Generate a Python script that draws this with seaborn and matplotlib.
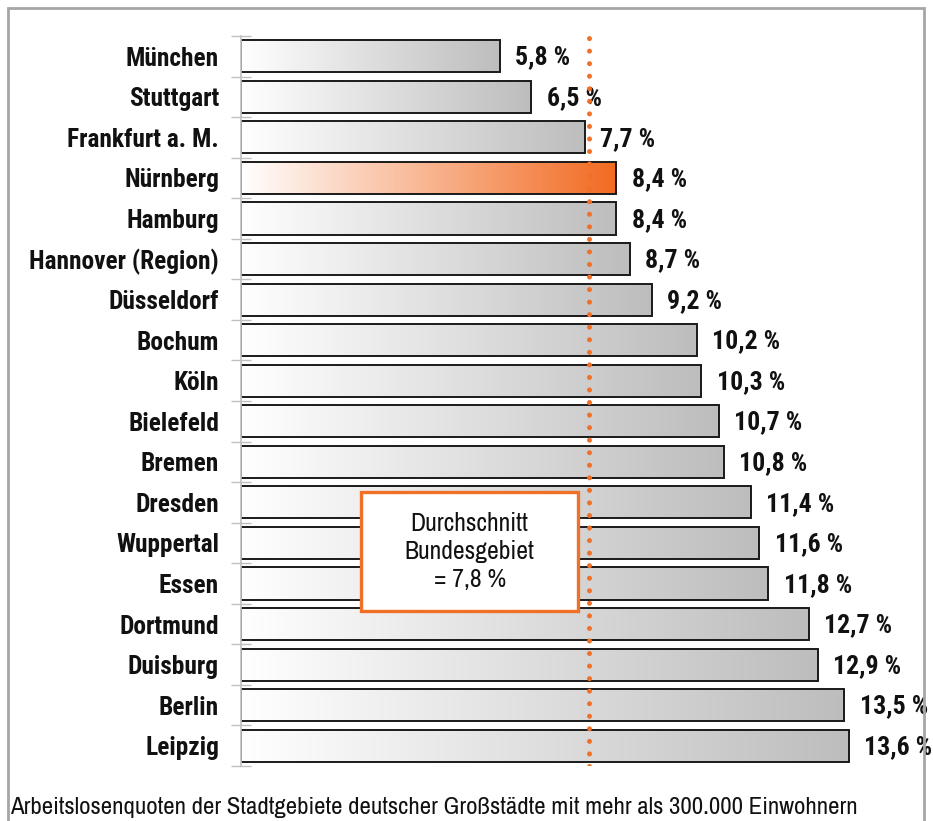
import numpy as np
import pandas as pd
import matplotlib
matplotlib.use("Agg")
import matplotlib.pyplot as plt
import seaborn as sns
from matplotlib.colors import LinearSegmentedColormap
from matplotlib.patches import Rectangle

cities = ["München", "Stuttgart", "Frankfurt a. M.", "Nürnberg", "Hamburg",
          "Hannover (Region)", "Düsseldorf", "Bochum", "Köln", "Bielefeld",
          "Bremen", "Dresden", "Wuppertal", "Essen", "Dortmund", "Duisburg",
          "Berlin", "Leipzig"]
values = [5.8, 6.5, 7.7, 8.4, 8.4, 8.7, 9.2, 10.2, 10.3, 10.7, 10.8, 11.4,
          11.6, 11.8, 12.7, 12.9, 13.5, 13.6]
value_labels = ["5,8 %", "6,5 %", "7,7 %", "8,4 %", "8,4 %", "8,7 %", "9,2 %",
                "10,2 %", "10,3 %", "10,7 %", "10,8 %", "11,4 %", "11,6 %",
                "11,8 %", "12,7 %", "12,9 %", "13,5 %", "13,6 %"]
highlight = "Nürnberg"
average = 7.8
avg_text = "Durchschnitt\nBundesgebiet\n= 7,8 %"
caption = "Arbeitslosenquoten der Stadtgebiete deutscher Großstädte mit mehr als 300.000 Einwohnern"

sns.set_style("white")
FAM = ["Archivo Narrow", "DejaVu Sans"]
BOLD_FAM = ["Roboto Condensed", "Encode Sans Condensed", "DejaVu Sans"]
plt.rcParams["font.family"] = FAM

fig = plt.figure(figsize=(9.33, 8.21), dpi=100)
ax = fig.add_axes([240.5 / 933, 55 / 821, 671.1 / 933, 730 / 821])

df = pd.DataFrame({"city": cities, "value": values})
sns.barplot(data=df, x="value", y="city", orient="h", color="#cccccc",
            edgecolor="#1a1a1a", linewidth=1.4, width=0.79, ax=ax,
            saturation=1)

gray_cmap = LinearSegmentedColormap.from_list("g", ["#ffffff", "#bdbdbd"])
orange_cmap = LinearSegmentedColormap.from_list("o", ["#ffffff", "#f26a21"])
grad = np.linspace(0, 1, 256).reshape(1, -1)
for patch, city in zip(ax.patches, cities):
    x0, y0 = patch.get_x(), patch.get_y()
    w, h = patch.get_width(), patch.get_height()
    cmap = orange_cmap if city == highlight else gray_cmap
    im = ax.imshow(grad, extent=[x0, x0 + w, y0 + h, y0], aspect="auto",
                   cmap=cmap, zorder=patch.get_zorder() - 0.1,
                   interpolation="bilinear")
    im.set_clip_path(patch)
    patch.set_facecolor("none")

for i, (v, lab) in enumerate(zip(values, value_labels)):
    ax.annotate(lab, xy=(v, i), xytext=(11, -1), textcoords="offset points",
                ha="left", va="center", fontsize=18.6, fontweight="bold",
                family=BOLD_FAM, color="#111111", annotation_clip=False)

ax.set_xlim(0, 15)
ax.set_ylim(17.5, -0.5)
ax.set_xlabel("")
ax.set_ylabel("")
ax.set_xticks([])
ax.set_yticks(range(len(cities)))
ax.set_yticklabels(cities, fontsize=18.3, fontweight="bold", family=BOLD_FAM,
                   color="#111111")
ax.set_yticks(np.arange(-0.5, len(cities), 1), minor=True)
ax.tick_params(axis="y", which="major", length=0, pad=15.5, left=False)
ax.tick_params(axis="y", which="minor", length=15, direction="inout",
               color="#c0c0c0", width=1, left=True)
for s in ["top", "right", "bottom"]:
    ax.spines[s].set_visible(False)
ax.spines["left"].set_color("#c0c0c0")
ax.spines["left"].set_linewidth(1.2)
ax.patch.set_alpha(0)

ax.axvline(average, color="#f07028", linewidth=3.6,
           linestyle=(0, (0.01, 2.5)), dash_capstyle="round", zorder=5)

box = Rectangle((0.18, 0.212), 0.323, 0.163, transform=ax.transAxes,
                facecolor="white", edgecolor="#f07028", linewidth=2.4, zorder=6)
ax.add_patch(box)
ax.text(0.18 + 0.323 / 2, 0.212 + 0.163 / 2, avg_text, transform=ax.transAxes,
        ha="center", va="center", fontsize=18.5, color="#111111",
        linespacing=1.25, zorder=7)

fig.text(10 / 933, 1 - 807 / 821, caption, ha="left", va="center",
         fontsize=17.9, color="#111111")

fig.patches.append(Rectangle((8 / 933, -0.1), (924 - 8) / 933, 1.1 - 8 / 821,
                             transform=fig.transFigure, fill=False,
                             edgecolor="#a6a6a6", linewidth=2, zorder=10))

fig.savefig("out.png", dpi=100)
